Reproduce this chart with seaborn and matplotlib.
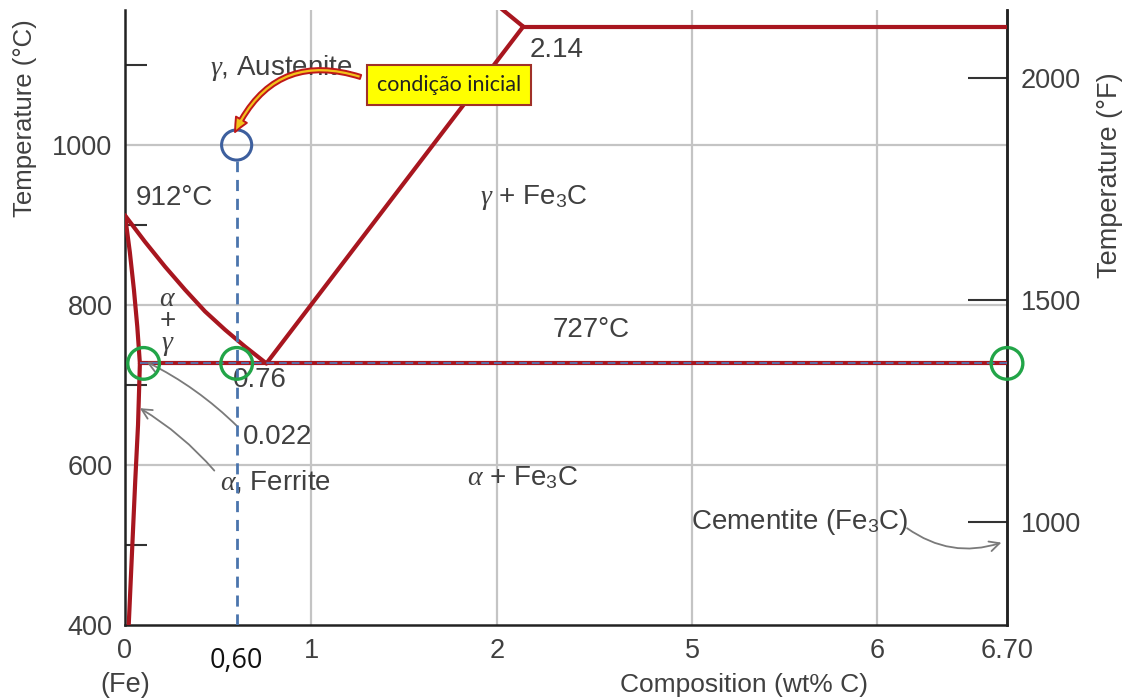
import numpy as np
import matplotlib
matplotlib.use("Agg")
import matplotlib.pyplot as plt
import seaborn as sns
from matplotlib.patches import FancyArrowPatch

# ---------------- data ----------------
alpha_solvus_x = [0.02, 0.055, 0.07, 0.08]
alpha_solvus_t = [400, 580, 650, 727]
alpha_gamma_x = [0.08, 0.066, 0.048, 0.026, 0.0]
alpha_gamma_t = [727, 773, 819, 866, 912]
gamma_alpha_x = [0.0, 0.1075, 0.215, 0.323, 0.430, 0.538, 0.645, 0.76]
gamma_alpha_t = [912, 879, 848, 819, 792, 769, 748, 727]
acm_x = [0.76, 2.14]
acm_t = [727, 1148]
solidus_x = [2.14, 1.93]
solidus_t = [1148, 1188]
eutectic_x = [2.14, 6.70]
eutectic_t = [1148, 1148]
eutectoid_x = [0.08, 6.70]
eutectoid_t = [727, 727]

initial_comp = [0.60]
initial_temp = [1000]
check_x = [0.10, 0.60, 6.70]
check_t = [727, 727, 727]

x_ticks = [0, 1, 2, 5, 6, 6.70]
x_tick_labels = ["0", "1", "2", "5", "6", "6.70"]
y_ticks_c = [400, 600, 800, 1000]
y_minor_c = [500, 700, 900, 1100]
y_ticks_f = [1000, 1500, 2000]
grid_x = [1, 2, 5, 6]
grid_y = [600, 800, 1000]

# broken composition axis (section between ~2.3 and ~4.9 wt% is compressed)
axis_break_x = [0, 2.3, 4.9, 6.70]
axis_break_u = [0, 2.3, 2.95, 4.74]


def fwd(x):
    return np.interp(x, axis_break_x, axis_break_u)


def inv(u):
    return np.interp(u, axis_break_u, axis_break_x)


def c2f(c):
    return (np.asarray(c) + 9.5) * 1.8 + 32


def f2c(f):
    return (np.asarray(f) - 32) / 1.8 - 9.5


# ---------------- style ----------------
sns.set_theme(style="white")
plt.rcParams["font.family"] = ["Liberation Sans", "DejaVu Sans"]
plt.rcParams["mathtext.fontset"] = "custom"
plt.rcParams["mathtext.rm"] = "Liberation Sans"
plt.rcParams["mathtext.it"] = "Liberation Serif:italic"

RED = "#a8161f"
TXT = "#404040"
GRID = "#c4c4c4"
BLUE = "#4a74ad"
GREEN = "#22a548"

fig = plt.figure(figsize=(11.26, 7), dpi=100)
ax = fig.add_axes([125 / 1126, 75 / 700, 882 / 1126, 615 / 700])
ax.set_xscale("function", functions=(fwd, inv))
ax.set_xlim(0, 6.70)
ax.set_ylim(400, 1168.75)

for gx in grid_x:
    ax.axvline(gx, color=GRID, lw=1.6, zorder=0)
for gy in grid_y:
    ax.axhline(gy, color=GRID, lw=1.6, zorder=0)

# phase boundaries
for xs, ts in [(alpha_solvus_x, alpha_solvus_t), (alpha_gamma_x, alpha_gamma_t),
               (gamma_alpha_x, gamma_alpha_t), (acm_x, acm_t),
               (solidus_x, solidus_t), (eutectic_x, eutectic_t),
               (eutectoid_x, eutectoid_t)]:
    sns.lineplot(x=xs, y=ts, sort=False, estimator=None, color=RED, lw=3.0,
                 ax=ax, zorder=3, solid_capstyle="round", solid_joinstyle="round")

# blue dashed overlay on eutectoid line
ax.plot(eutectoid_x, eutectoid_t, color="#5a6fa8", lw=1.4,
        linestyle=(0, (4, 2.5)), zorder=4)

# vertical dashed composition line
ax.plot([initial_comp[0], initial_comp[0]], [400, initial_temp[0] - 20],
        color=BLUE, lw=2.0, linestyle=(0, (4, 2.8)), zorder=4)

# circles
sns.scatterplot(x=initial_comp, y=initial_temp, s=470, marker="o",
                facecolors="none", edgecolors="#3d5f9e", linewidths=2.2,
                ax=ax, zorder=5, clip_on=False)
sns.scatterplot(x=check_x, y=check_t, s=520, marker="o",
                facecolors="none", edgecolors=GREEN, linewidths=2.4,
                ax=ax, zorder=5, clip_on=False)

# spines & ticks
ax.spines["top"].set_visible(False)
for s in ["left", "bottom", "right"]:
    ax.spines[s].set_color("#222222")
    ax.spines[s].set_linewidth(1.8)

ax.set_xticks(x_ticks)
ax.set_xticklabels(x_tick_labels)
ax.set_yticks(y_ticks_c)
ax.set_yticks(y_minor_c, minor=True)
ax.tick_params(axis="both", which="major", direction="in", length=30, width=1.5,
               color="#333333", labelsize=19.5, labelcolor=TXT, pad=9)
ax.tick_params(axis="y", which="minor", direction="in", length=16, width=1.5,
               color="#333333", left=True)
ax.tick_params(axis="y", right=False)
ax.set_xlabel("")
ax.set_ylabel("")

sec = ax.secondary_yaxis("right", functions=(c2f, f2c))
sec.set_yticks(y_ticks_f)
sec.tick_params(direction="in", length=28, width=1.5, color="#333333",
                labelsize=19.5, labelcolor=TXT, pad=10)
sec.spines["right"].set_color("#222222")
sec.spines["right"].set_linewidth(1.8)

# axis titles
fig.text(25 / 1126, 1 - 118 / 700, "Temperature (°C)", rotation=90,
         ha="center", va="center", fontsize=18.5, color=TXT)
fig.text(1110 / 1126, 1 - 175 / 700, "Temperature (°F)", rotation=90,
         ha="center", va="center", fontsize=19.5, color=TXT)
xt = ax.get_xaxis_transform()
ax.text(5.28, -0.098, "Composition (wt% C)", transform=xt, ha="center",
        va="center", fontsize=19, color=TXT)
ax.text(0.0, -0.098, "(Fe)", transform=xt, ha="center", va="center",
        fontsize=19.5, color=TXT)
ax.text(0.60, -0.059, "0,60", transform=xt, ha="center", va="center",
        fontsize=19.5, color="#111111", family=["Open Sans", "DejaVu Sans"])

# region labels
lab = dict(color=TXT, fontsize=20, va="center")
ax.text(0.457, 1096, r"$\gamma$, Austenite", ha="left", **lab)
ax.text(0.06, 934, "912°C", ha="left", **lab)
ax.text(0.23, 779, "$\\alpha$\n+\n$\\gamma$", ha="center", linespacing=0.8,
        **lab)
ax.text(0.58, 706, "0.76", ha="left", **lab)
ax.text(0.634, 635, "0.022", ha="left", **lab)
ax.text(0.51, 579, r"$\alpha$, Ferrite", ha="left", **lab)
ax.text(1.91, 934, r"$\gamma$ + Fe$_\mathrm{3}$C", ha="left", **lab)
ax.text(2.30, 769, "727°C", ha="left", **lab)
ax.text(1.84, 584, r"$\alpha$ + Fe$_\mathrm{3}$C", ha="left", **lab)
ax.text(4.99, 529, r"Cementite (Fe$_\mathrm{3}$C)", ha="left", **lab)
ax.text(2.177, 1119, "2.14", ha="left", **lab)

# gray pointer arrows
gray = dict(arrowstyle="->,head_length=0.6,head_width=0.3", color="#7a7a7a",
            lw=1.3, shrinkA=0, shrinkB=0)
ax.annotate("", xy=(0.115, 729), xytext=(0.605, 648),
            arrowprops=dict(connectionstyle="arc3,rad=0.08", **gray))
ax.annotate("", xy=(0.08, 671), xytext=(0.48, 593),
            arrowprops=dict(connectionstyle="arc3,rad=0.08", **gray))
ax.annotate("", xy=(6.67, 503), xytext=(6.16, 521),
            arrowprops=dict(connectionstyle="arc3,rad=0.25", **gray))

# callout box + curved arrow
ax.text(1.742, 1075, "condição inicial", ha="center", va="center",
        fontsize=15.5, color="#222222", family=["Lato", "DejaVu Sans"],
        bbox=dict(boxstyle="square,pad=0.45", fc="#ffff00", ec="#a03028",
                  lw=1.5), zorder=6)
arrow = FancyArrowPatch(posA=(1.28, 1084), posB=(0.585, 1013),
                        connectionstyle="arc3,rad=0.45",
                        arrowstyle="simple,head_width=9,head_length=10,tail_width=3",
                        fc="#f2c21b", ec="#c01818", lw=1.4, zorder=6,
                        transform=ax.transData)
ax.add_patch(arrow)

fig.savefig("out.png", dpi=100)
